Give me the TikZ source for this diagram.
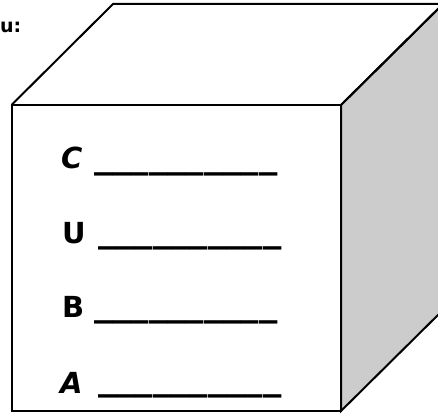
\documentclass[tikz,border=0pt]{standalone}
\usepackage{fontspec}
\setmainfont{DejaVu Sans}
\definecolor{sidegray}{HTML}{CCCCCC}
\tikzset{
  edge/.style={draw=black,line width=2pt,line join=miter},
  letter/.style={inner sep=0pt,anchor=base west,font=\fontsize{29}{31}\selectfont\bfseries},
  blank/.style={inner sep=0pt,anchor=base west,font=\fontsize{28}{30}\selectfont\bfseries},
}
\newcommand{\blankline}{\scalebox{1.31}[1.3]{\_\_\_\_\_\_\_\_\_\_}}
\begin{document}
\begin{tikzpicture}[x=1pt,y=-1pt]
\useasboundingbox (0,0) rectangle (438,414);
\clip (0,0) rectangle (438,414);
\coordinate (f1) at (11.5,105);
\coordinate (f2) at (341,105);
\coordinate (f3) at (341,411);
\coordinate (f4) at (11.5,411);
\coordinate (b1) at (113,4);
\coordinate (b2) at (443,4);
\coordinate (b3) at (443,310);
\path[fill=white] (f1) -- (b1) -- (b2) -- (f2) -- cycle;
\path[edge,fill=sidegray] (f2) -- (b2) -- (b3) -- (f3) -- cycle;
\path[edge] (f1) -- (b1) -- (b2) -- (f2);
\path[edge,fill=white] (f1) -- (f2) -- (f3) -- (f4) -- cycle;
\node[inner sep=0pt,anchor=base east,font=\fontsize{19}{21}\selectfont\bfseries] (title) at (21.5,33) {u:};
\node[letter] (lc) at (61,168) {\itshape C};
\node[blank] (bc) at (94,167) {\blankline};
\node[letter] (lu) at (62,243) {U};
\node[blank] (bu) at (98,241) {\blankline};
\node[letter] (lb) at (62,317) {B};
\node[blank] (bb) at (94,315) {\blankline};
\node[letter] (la) at (60,393) {\itshape A};
\node[blank] (ba) at (98,389) {\blankline};
\end{tikzpicture}
\end{document}
